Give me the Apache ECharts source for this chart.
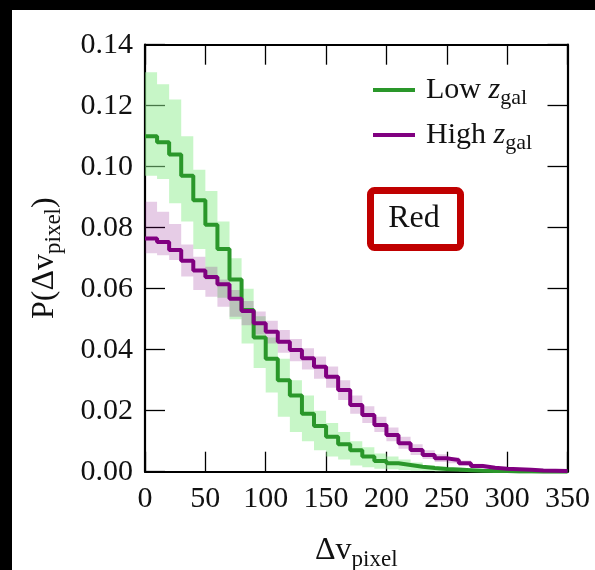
<!DOCTYPE html>
<html><head><meta charset="utf-8">
<script src="https://cdn.jsdelivr.net/npm/echarts@6/dist/echarts.min.js"></script>
<style>html,body{margin:0;padding:0;background:#fff;}#c{width:595px;height:570px;}</style>
</head><body><div id="c"></div>
<script>
// ---- data ----
const binStart = [0,10,20,30,40,50,60,70,80,90,100,110,120,130,140,150,160,170,180,190,200,210,220,230,240,250,260,270,280,290,300,310,320,330,340];
const binEnd = 350;
const xTicks = [0,50,100,150,200,250,300,350];
const yTicks = [0.00,0.02,0.04,0.06,0.08,0.10,0.12,0.14];

const lowLine  = [0.110,0.108,0.104,0.097,0.089,0.081,0.073,0.063,0.053,0.044,0.037,0.030,0.025,0.019,0.015,0.0115,0.0090,0.0070,0.0050,0.0035,0.0028,0.0022,0.0016,0.0012,0.0009,0.0007,0.0005,0.0003,0.0002,0.0002,0.0001,0.0001,0.0,0.0,0.0];
const lowLower = [0.097,0.096,0.088,0.082,0.073,0.063,0.057,0.050,0.042,0.034,0.026,0.018,0.013,0.010,0.007,0.005,0.004,0.002,0.0015,0.001,0.0008,0.0005,0.0003,0.0002,0.0001,0.0001,0,0,0,0,0,0,0,0,0];
const lowUpper = [0.131,0.127,0.122,0.110,0.099,0.092,0.082,0.070,0.060,0.051,0.044,0.037,0.030,0.025,0.020,0.016,0.013,0.010,0.008,0.006,0.005,0.004,0.003,0.0022,0.0016,0.0012,0.0009,0.0006,0.0004,0.0003,0.0002,0.0002,0.0001,0.0001,0.0001];

const highLine  = [0.0765,0.0753,0.0727,0.0692,0.0660,0.0638,0.0615,0.0567,0.0527,0.0487,0.0459,0.0426,0.0399,0.0372,0.0344,0.0311,0.0268,0.0219,0.0186,0.0153,0.0120,0.0093,0.0071,0.0055,0.0044,0.0038,0.0028,0.0019,0.0013,0.0010,0.0008,0.0006,0.0004,0.0003,0.0002];
const highLower = [0.0716,0.0710,0.0694,0.0640,0.0596,0.0574,0.0541,0.0508,0.0480,0.0450,0.0420,0.0390,0.0362,0.0335,0.0305,0.0275,0.0235,0.0190,0.0160,0.0130,0.0100,0.0075,0.0055,0.0042,0.0032,0.0028,0.0020,0.0013,0.0008,0.0006,0.0004,0.0003,0.0002,0.0001,0.0001];
const highUpper = [0.0885,0.0852,0.0812,0.0745,0.0705,0.0672,0.0630,0.0596,0.0560,0.0525,0.0495,0.0465,0.0435,0.0405,0.0378,0.0345,0.0300,0.0250,0.0215,0.0180,0.0145,0.0115,0.0090,0.0070,0.0057,0.0048,0.0037,0.0026,0.0019,0.0015,0.0012,0.0009,0.0007,0.0005,0.0004];

const seriesNames = ['Low', 'High'];
const annotation = 'Red';

// ---- helpers building library data ----
function stepData(vals) {
  const d = binStart.map((x, i) => [x, vals[i]]);
  d.push([binEnd, vals[vals.length - 1]]);
  return d;
}
function binRight(i) { return i + 1 < binStart.length ? binStart[i + 1] : binEnd; }

const FONT = 'Liberation Serif';
const GREEN = '#2a972a', PURPLE = '#800080';

// band drawn as one polygon through the axes' scales (api.coord)
function bandSeries(lower, upper, color, z) {
  return {
    type: 'custom', coordinateSystem: 'cartesian2d', silent: true, z: z, clip: true,
    data: [[binStart[0], lower[0]]],
    renderItem: function (params, api) {
      const pts = [];
      for (let i = 0; i < binStart.length; i++) {
        pts.push(api.coord([binStart[i], upper[i]]));
        pts.push(api.coord([binRight(i), upper[i]]));
      }
      for (let i = binStart.length - 1; i >= 0; i--) {
        pts.push(api.coord([binRight(i), lower[i]]));
        pts.push(api.coord([binStart[i], lower[i]]));
      }
      return { type: 'polygon', shape: { points: pts }, style: { fill: color, stroke: null } };
    }
  };
}

const chart = echarts.init(document.getElementById('c'), null, { renderer: 'canvas' });
const nameRich = {
  m: { fontFamily: FONT, fontSize: 32, lineHeight: 38, color: '#111' },
  s: { fontFamily: FONT, fontSize: 23, lineHeight: 23, padding: [18, 0, 0, 0], color: '#111' }
};
const axisCommon = {
  axisLine: { show: true, onZero: false, lineStyle: { color: '#000', width: 2.2 } },
  axisTick: { show: true, inside: true, length: 20, lineStyle: { color: '#000', width: 1.3 } },
  splitLine: { show: false }
};

chart.setOption({
  backgroundColor: '#fff',
  animation: false,
  grid: { left: 145, right: 27.5, top: 44.7, bottom: 98.3, containLabel: false, outerBoundsMode: 'none' },
  xAxis: [
    Object.assign({ type: 'value', min: xTicks[0], max: xTicks[xTicks.length - 1], interval: 50, position: 'bottom',
      axisLabel: { fontFamily: FONT, fontSize: 30, color: '#111', margin: 12, showMinLabel: true, showMaxLabel: true },
      name: '{m|Δv}{s|pixel}', nameLocation: 'middle', nameGap: 60,
      nameTextStyle: { rich: nameRich }
    }, axisCommon),
    Object.assign({ type: 'value', min: xTicks[0], max: xTicks[xTicks.length - 1], interval: 50, position: 'top',
      axisLabel: { show: false } }, axisCommon)
  ],
  yAxis: [
    Object.assign({ type: 'value', min: yTicks[0], max: yTicks[yTicks.length - 1], interval: 0.02, position: 'left',
      axisLabel: { fontFamily: FONT, fontSize: 30, color: '#111', margin: 12, formatter: v => v.toFixed(2), showMinLabel: true, showMaxLabel: true },
      name: '{m|P(Δv}{s|pixel}{m|)}', nameLocation: 'middle', nameRotate: 90, nameGap: 81,
      nameTextStyle: { rich: nameRich }
    }, axisCommon),
    Object.assign({ type: 'value', min: yTicks[0], max: yTicks[yTicks.length - 1], interval: 0.02, position: 'right',
      axisLabel: { show: false } }, axisCommon)
  ],
  legend: {
    data: seriesNames, orient: 'vertical', left: 373, top: 71, itemGap: 7, padding: 0,
    itemWidth: 42, itemHeight: 4, icon: 'rect', selectedMode: false,
    formatter: n => '{t|' + n + ' }{i|z}{s|gal}',
    textStyle: { rich: {
      t: { fontFamily: FONT, fontSize: 30, lineHeight: 36, color: '#111', padding: [0, 0, 0, 6] },
      i: { fontFamily: FONT, fontSize: 30, lineHeight: 36, fontStyle: 'italic', color: '#111' },
      s: { fontFamily: FONT, fontSize: 22, lineHeight: 22, padding: [16, 0, 0, 0], color: '#111' }
    } }
  },
  graphic: [
    { type: 'rect', shape: { x: 0, y: 0, width: 595, height: 10 }, style: { fill: '#000' }, z: 100 },
    { type: 'rect', shape: { x: 0, y: 0, width: 12, height: 570 }, style: { fill: '#000' }, z: 100 },
    { type: 'group', z: 100, children: [
      { type: 'rect', shape: { x: 370.5, y: 190.5, width: 90, height: 57, r: 4 },
        style: { fill: '#fff', stroke: '#c00000', lineWidth: 7 } },
      { type: 'text', x: 414, y: 219, style: { text: annotation, font: '32px "Liberation Serif"', fill: '#111', align: 'center', verticalAlign: 'middle' } }
    ] }
  ],
  series: [
    bandSeries(lowLower, lowUpper, 'rgba(144,238,144,0.5)', 1),
    bandSeries(highLower, highUpper, 'rgba(128,0,128,0.2)', 2),
    { name: seriesNames[0], type: 'line', step: 'end', data: stepData(lowLine), symbol: 'none',
      color: GREEN, lineStyle: { color: GREEN, width: 4 }, z: 3 },
    { name: seriesNames[1], type: 'line', step: 'end', data: stepData(highLine), symbol: 'none',
      color: PURPLE, lineStyle: { color: PURPLE, width: 4 }, z: 4 }
  ]
});
</script></body></html>
